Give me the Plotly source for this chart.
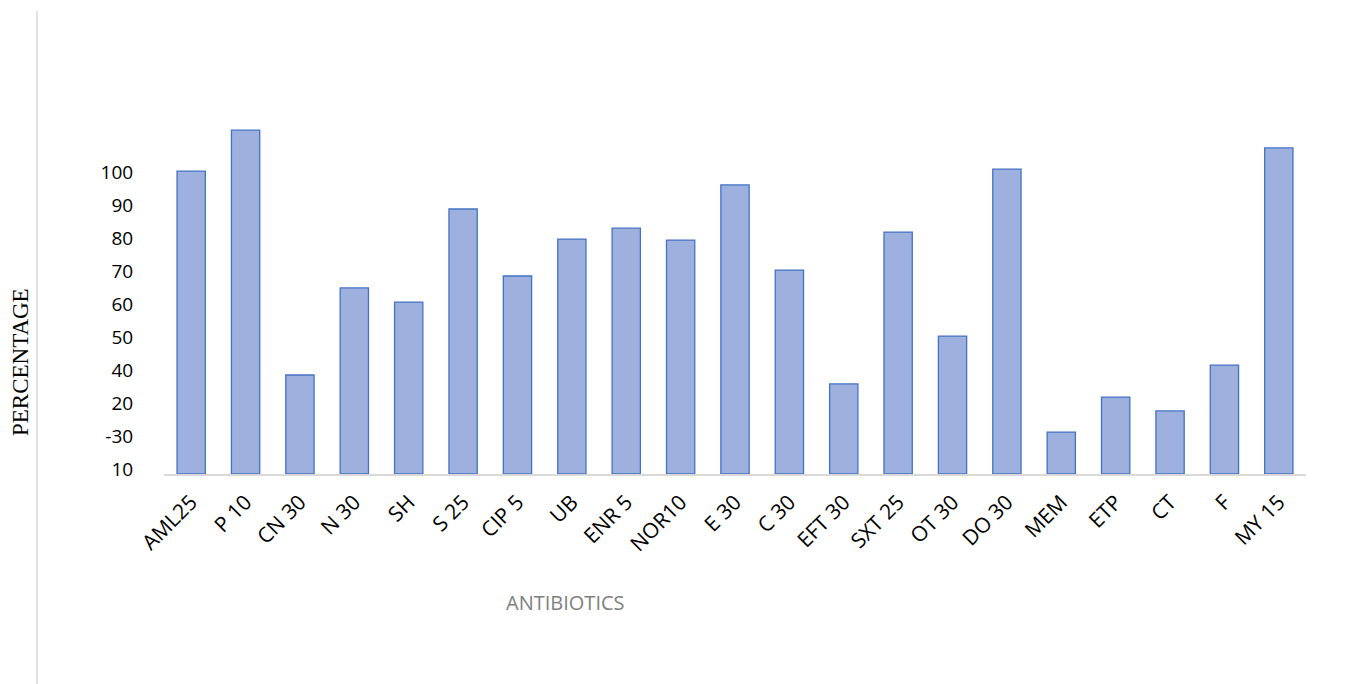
import plotly.graph_objects as go

categories = ["AML25", "P 10", "CN 30", "N 30", "SH", "S 25", "CIP 5", "UB", "ENR 5", "NOR10",
              "E 30", "C 30", "EFT 30", "SXT 25", "OT 30", "DO 30", "MEM", "ETP", "CT", "F", "MY 15"]
values = [91.8, 104.2, 30.0, 56.4, 52.1, 80.3, 60.0, 71.2, 74.5, 70.9,
          87.6, 61.8, 27.3, 73.3, 41.8, 92.4, 12.7, 23.3, 19.1, 33.0, 98.8]
tick_positions = [1.5, 11.5, 21.5, 31.5, 41.5, 51.5, 61.5, 71.5, 81.5, 91.5]
tick_labels = ["10", "-30", "20", "40", "50", "60", "70", "80", "90", "100"]

fig = go.Figure(go.Bar(
    x=categories, y=values,
    marker=dict(color="#9DB0DE", line=dict(color="#4472C4", width=1.3)),
))

W, H = 1357, 684
L, R, T, B = 164, 51, 111, 210
pw = W - L - R
ph = H - T - B

fig.update_layout(
    width=W, height=H,
    margin=dict(l=L, r=R, t=T, b=B),
    paper_bgcolor="white", plot_bgcolor="white",
    bargap=0.48,
    showlegend=False,
    font=dict(family="Open Sans, Lato, sans-serif", color="black"),
    xaxis=dict(
        showline=True, linecolor="#D9D9D9", linewidth=1.5,
        tickangle=-45, tickfont=dict(size=21, color="black"),
        ticks="outside", ticklen=6, tickcolor="rgba(0,0,0,0)",
        showgrid=False,
    ),
    yaxis=dict(
        range=[0, 110], showgrid=False, zeroline=False, showline=False,
        tickvals=tick_positions, ticktext=tick_labels,
        tickfont=dict(size=19, color="black"),
        ticks="outside", ticklen=26, tickcolor="rgba(0,0,0,0)",
    ),
    shapes=[dict(
        type="line", xref="paper", yref="paper",
        x0=(37 - L) / pw, x1=(37 - L) / pw,
        y0=(H - B - 11) / ph, y1=-(B) / ph - 0.01,
        line=dict(color="#D9D9D9", width=1.5),
    )],
    annotations=[
        dict(text="ANTIBIOTICS", xref="paper", yref="paper",
             x=(565 - L) / pw, y=-(602 - (H - B)) / ph,
             xanchor="center", yanchor="middle", showarrow=False,
             font=dict(size=20, color="#7F7F7F", family="Open Sans, sans-serif")),
        dict(text="PERCENTAGE", xref="paper", yref="paper",
             x=(20 - L) / pw, y=(H - B - 362) / ph,
             xanchor="center", yanchor="middle", showarrow=False, textangle=-90,
             font=dict(size=23, color="black", family="Liberation Serif, Times New Roman, serif")),
    ],
)

fig.write_html("out.html")
